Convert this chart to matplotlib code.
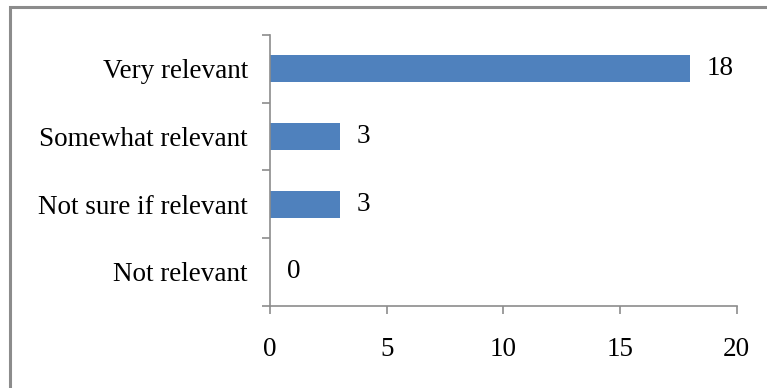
import matplotlib
matplotlib.use("Agg")
import matplotlib.pyplot as plt
from matplotlib.patches import Rectangle

categories = ["Not relevant", "Not sure if relevant", "Somewhat relevant", "Very relevant"]
counts = [0, 3, 3, 18]
x_ticks = [0, 5, 10, 15, 20]

plt.rcParams["font.family"] = ["Liberation Serif", "DejaVu Serif"]
FS = 19.5

W, H = 767, 388
fig = plt.figure(figsize=(W / 100, H / 100), dpi=100)

# outer frame (only left/top edges fall inside the image)
fig.patches.append(Rectangle((9.5 / W, -0.1), 1.2, 1 - 6.5 / H + 0.1,
                             transform=fig.transFigure, fill=False,
                             edgecolor="#8c8c8c", linewidth=2.2))

ax = fig.add_axes([270 / W, 1 - 305.7 / H, (736.7 - 270) / W, (305.7 - 35) / H])
y = range(len(categories))
ax.barh(y, counts, height=0.4, color="#4F81BD")

for yi, v in zip(y, counts):
    ax.text(v + 0.72, yi, str(v), va="center", ha="left", fontsize=FS)

ax.set_xlim(0, 20)
ax.set_ylim(-0.5, len(categories) - 0.5)
ax.set_xticks(x_ticks)
ax.set_xticklabels([str(t) for t in x_ticks], fontsize=FS)
ax.set_yticks(list(y))
ax.set_yticklabels(categories, fontsize=FS)
ax.set_yticks([i - 0.5 for i in range(len(categories) + 1)], minor=True)

ax.tick_params(axis="y", which="major", length=0, pad=16)
ax.tick_params(axis="y", which="minor", length=5.5, width=1.2, color="#8c8c8c", direction="out")
ax.tick_params(axis="x", which="major", length=5.5, width=1.2, color="#8c8c8c",
               direction="out", pad=17)

for s in ("top", "right"):
    ax.spines[s].set_visible(False)
for s in ("left", "bottom"):
    ax.spines[s].set_color("#8c8c8c")
    ax.spines[s].set_linewidth(1.2)

fig.savefig("out.png", dpi=100)
